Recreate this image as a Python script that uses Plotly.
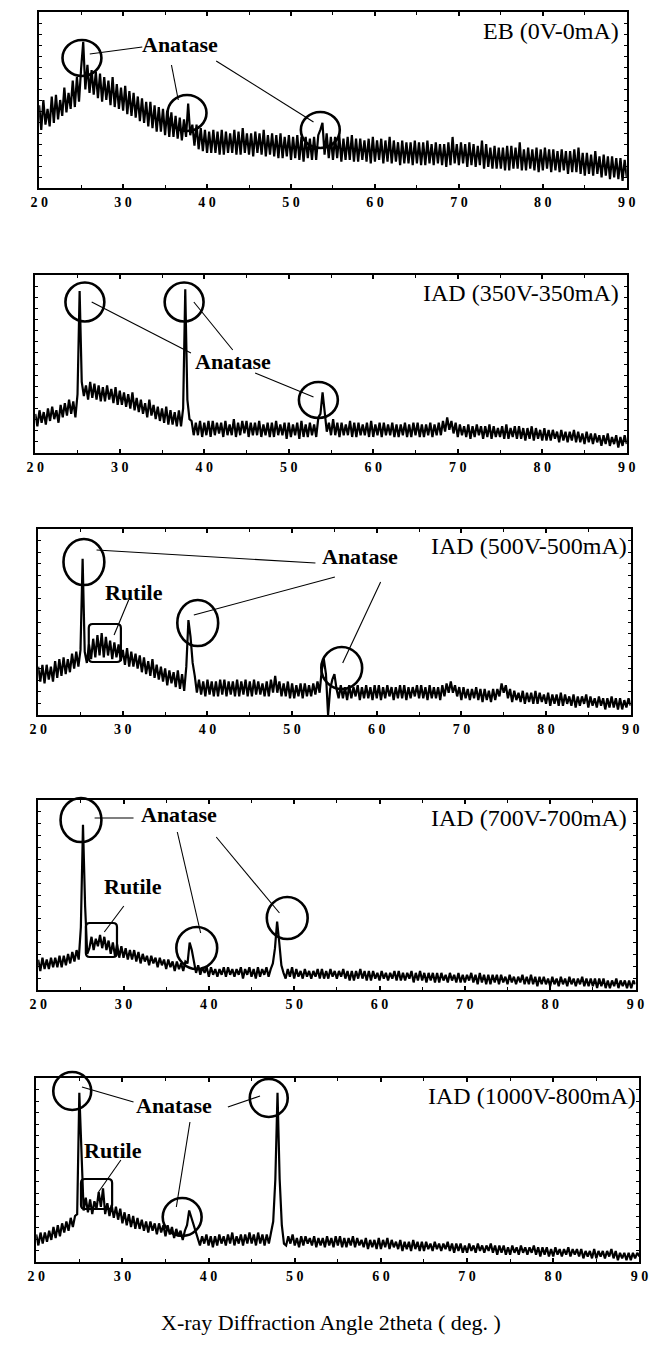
import plotly.graph_objects as go

# ---------------- data (2theta grid, 0.25 deg steps) ----------------
two_theta = [20 + 0.25 * i for i in range(281)]

eb_0v = [
    47, 33, 50, 36, 45, 35, 52, 37, 53, 39, 50, 41, 57, 43, 54, 45, 61, 46, 63, 49,
    68, 83, 56, 70, 54, 67, 53, 66, 51, 65, 49, 63, 50, 61, 47, 63, 46, 59, 45, 57,
    44, 58, 42, 55, 41, 54, 40, 52, 38, 51, 37, 49, 35, 49, 34, 47, 32, 46, 32, 45,
    30, 44, 29, 43, 29, 41, 28, 40, 27, 39, 29, 48, 30, 36, 24, 36, 22, 34, 21, 33,
    20, 32, 20, 33, 20, 32, 19, 33, 19, 32, 20, 31, 20, 33, 19, 32, 19, 34, 20, 31,
    19, 31, 18, 32, 20, 31, 19, 33, 18, 30, 19, 31, 18, 30, 17, 31, 17, 29, 18, 30,
    16, 29, 17, 30, 16, 29, 15, 29, 17, 28, 16, 29, 16, 30, 33, 37, 19, 31, 17, 29,
    16, 29, 17, 30, 15, 28, 16, 29, 16, 30, 15, 28, 15, 28, 16, 27, 15, 28, 14, 29,
    15, 27, 16, 28, 14, 27, 15, 29, 14, 27, 15, 26, 13, 27, 14, 26, 14, 26, 13, 27,
    14, 26, 13, 26, 13, 27, 14, 25, 13, 26, 14, 25, 13, 25, 12, 26, 13, 29, 14, 25,
    13, 26, 14, 25, 12, 26, 13, 25, 12, 24, 13, 27, 11, 25, 12, 23, 11, 24, 11, 23,
    11, 23, 10, 24, 10, 24, 11, 23, 11, 26, 10, 22, 10, 23, 11, 22, 10, 23, 9, 22,
    10, 23, 11, 22, 9, 22, 10, 21, 9, 22, 10, 21, 8, 21, 9, 22, 9, 23, 8, 20,
    7, 20, 8, 19, 7, 21, 8, 18, 6, 19, 7, 18, 5, 18, 6, 17, 5, 17, 4, 16,
    6,
]

iad_350v = [
    22, 15, 24, 17, 23, 16, 25, 18, 26, 19, 24, 17, 27, 20, 28, 21, 30, 22, 29, 20,
    33, 91, 40, 32, 38, 30, 40, 31, 39, 30, 38, 29, 37, 29, 38, 30, 36, 28, 37, 27,
    35, 27, 34, 26, 33, 25, 34, 24, 31, 23, 30, 22, 28, 20, 30, 21, 27, 19, 26, 18,
    25, 17, 26, 16, 24, 16, 23, 15, 24, 15, 25, 92, 30, 19, 18, 10, 17, 10, 18, 9,
    17, 10, 18, 9, 18, 10, 17, 11, 17, 9, 18, 10, 16, 10, 19, 9, 17, 10, 18, 11,
    18, 9, 17, 10, 17, 10, 18, 9, 16, 10, 17, 9, 17, 9, 18, 10, 16, 10, 17, 8,
    17, 9, 16, 10, 17, 8, 18, 9, 16, 9, 17, 10, 16, 9, 20, 22, 34, 22, 12, 17,
    10, 19, 10, 17, 9, 17, 10, 16, 10, 18, 9, 17, 9, 17, 10, 16, 10, 17, 9, 18,
    9, 16, 10, 17, 9, 17, 10, 16, 10, 17, 9, 16, 9, 16, 10, 17, 9, 16, 9, 17,
    10, 17, 9, 16, 9, 16, 10, 17, 9, 16, 10, 17, 10, 18, 12, 20, 13, 18, 11, 17,
    9, 16, 10, 15, 9, 16, 8, 15, 9, 16, 10, 15, 8, 15, 9, 16, 8, 15, 9, 14,
    9, 15, 8, 16, 8, 14, 9, 15, 8, 15, 8, 14, 7, 14, 8, 15, 7, 14, 8, 13,
    7, 14, 7, 13, 7, 13, 8, 12, 6, 13, 7, 12, 6, 12, 7, 13, 6, 12, 6, 11,
    5, 12, 6, 11, 5, 11, 6, 10, 4, 10, 5, 11, 4, 9, 5, 10, 3, 9, 4, 10,
    5,
]

iad_500v = [
    26, 18, 27, 17, 27, 19, 26, 18, 29, 20, 30, 21, 31, 22, 30, 23, 33, 25, 34, 26,
    35, 84, 34, 28, 38, 30, 41, 31, 43, 32, 44, 31, 42, 32, 40, 30, 39, 31, 38, 29,
    35, 27, 36, 26, 34, 26, 33, 25, 32, 23, 31, 22, 29, 21, 30, 20, 27, 19, 26, 18,
    25, 16, 24, 17, 23, 15, 24, 14, 22, 13, 26, 51, 42, 28, 21, 12, 19, 11, 18, 10,
    19, 11, 18, 10, 18, 10, 19, 11, 19, 10, 18, 11, 18, 10, 19, 10, 18, 11, 19, 10,
    18, 10, 19, 11, 18, 11, 17, 10, 18, 10, 19, 12, 21, 12, 18, 10, 17, 10, 18, 9,
    17, 9, 16, 10, 17, 9, 17, 10, 16, 10, 17, 11, 18, 12, 24, 30, 22, 0, 14, 19,
    22, 14, 9, 16, 9, 15, 8, 16, 9, 15, 10, 16, 8, 15, 9, 16, 9, 15, 8, 16,
    9, 16, 8, 15, 9, 16, 10, 15, 8, 15, 9, 16, 9, 16, 8, 15, 9, 15, 10, 16,
    9, 16, 9, 15, 8, 16, 9, 15, 9, 15, 8, 16, 10, 17, 12, 18, 12, 16, 10, 15,
    8, 15, 9, 14, 8, 14, 9, 15, 8, 14, 7, 14, 8, 13, 7, 14, 8, 14, 10, 17,
    12, 16, 9, 14, 7, 13, 8, 12, 7, 13, 6, 12, 7, 12, 6, 13, 6, 12, 7, 11,
    6, 12, 5, 11, 6, 11, 5, 12, 5, 11, 6, 10, 5, 11, 4, 10, 5, 10, 6, 11,
    4, 10, 5, 9, 4, 10, 5, 9, 3, 9, 4, 10, 4, 9, 3, 9, 3, 8, 4, 9,
    5,
]

iad_700v = [
    16, 10, 17, 11, 16, 11, 17, 12, 17, 12, 18, 12, 18, 13, 19, 14, 20, 15, 21, 16,
    33, 87, 44, 19, 22, 28, 21, 27, 23, 29, 22, 28, 21, 26, 19, 25, 18, 24, 17, 23,
    17, 22, 16, 21, 16, 21, 15, 20, 14, 19, 15, 18, 13, 18, 14, 17, 12, 17, 13, 16,
    11, 16, 12, 15, 10, 15, 11, 14, 10, 15, 14, 25, 21, 14, 9, 13, 8, 12, 9, 12,
    7, 12, 8, 11, 7, 11, 8, 12, 7, 12, 8, 11, 7, 11, 8, 12, 6, 11, 8, 12,
    7, 11, 6, 12, 7, 11, 8, 12, 7, 11, 14, 22, 36, 25, 13, 9, 6, 11, 7, 12,
    6, 11, 7, 10, 6, 11, 7, 10, 6, 10, 7, 11, 6, 11, 6, 10, 6, 11, 7, 10,
    6, 10, 7, 11, 6, 10, 5, 10, 5, 10, 6, 11, 6, 10, 5, 10, 5, 10, 6, 9,
    5, 10, 6, 9, 5, 9, 6, 10, 5, 10, 5, 9, 5, 9, 6, 10, 4, 9, 5, 10,
    5, 9, 4, 9, 5, 9, 4, 9, 4, 9, 5, 8, 4, 9, 5, 8, 4, 9, 4, 8,
    4, 8, 5, 9, 4, 8, 3, 9, 4, 8, 3, 8, 3, 8, 4, 8, 3, 8, 4, 7,
    3, 8, 4, 7, 3, 7, 4, 8, 3, 7, 3, 8, 3, 7, 2, 7, 3, 7, 3, 6,
    2, 7, 3, 6, 2, 7, 3, 6, 2, 7, 3, 6, 2, 6, 3, 7, 2, 6, 2, 6,
    2, 6, 1, 6, 2, 6, 1, 5, 1, 5, 2, 6, 1, 5, 2, 5, 1, 5, 1, 5,
    3,
]

iad_1000v = [
    15, 9, 16, 10, 16, 11, 17, 12, 19, 13, 20, 14, 21, 16, 22, 17, 24, 19, 25, 26,
    92, 55, 28, 35, 27, 34, 26, 33, 29, 38, 30, 40, 26, 32, 25, 31, 24, 30, 23, 29,
    21, 27, 20, 26, 19, 25, 18, 24, 18, 23, 17, 22, 16, 22, 17, 21, 15, 21, 16, 20,
    14, 20, 15, 19, 13, 18, 14, 17, 12, 17, 20, 28, 24, 20, 17, 12, 9, 14, 10, 15,
    9, 14, 8, 14, 9, 15, 10, 14, 9, 15, 10, 16, 9, 14, 10, 15, 9, 15, 10, 16,
    10, 15, 9, 16, 10, 15, 9, 15, 10, 16, 22, 45, 92, 45, 20, 10, 9, 14, 10, 15,
    9, 13, 8, 14, 9, 14, 10, 13, 9, 14, 8, 13, 9, 13, 8, 14, 9, 13, 8, 14,
    9, 14, 8, 13, 8, 13, 9, 14, 8, 13, 9, 12, 8, 13, 7, 12, 8, 12, 7, 13,
    7, 12, 8, 13, 7, 12, 8, 11, 7, 12, 6, 11, 7, 11, 6, 12, 7, 11, 6, 11,
    6, 11, 7, 10, 6, 11, 7, 10, 6, 10, 7, 11, 6, 10, 5, 10, 6, 10, 5, 9,
    5, 10, 6, 9, 5, 10, 6, 9, 5, 9, 6, 10, 5, 9, 4, 9, 5, 9, 4, 8,
    4, 9, 5, 8, 4, 9, 5, 8, 4, 8, 5, 9, 4, 8, 3, 8, 4, 8, 3, 7,
    3, 8, 4, 7, 3, 7, 4, 8, 3, 7, 4, 7, 3, 7, 2, 6, 3, 6, 2, 7,
    2, 6, 3, 6, 2, 6, 3, 7, 2, 6, 1, 5, 2, 5, 1, 5, 1, 5, 2, 5,
    3,
]

series = [eb_0v, iad_350v, iad_500v, iad_700v, iad_1000v]
panel_labels = ["EB (0V-0mA)", "IAD (350V-350mA)", "IAD (500V-500mA)",
                "IAD (700V-700mA)", "IAD (1000V-800mA)"]
tick_values = [20, 30, 40, 50, 60, 70, 80, 90]
tick_labels = ["2 0", "3 0", "4 0", "5 0", "6 0", "7 0", "8 0", "9 0"]
x_title = "X-ray Diffraction Angle 2theta ( deg. )"

# ---------------- layout geometry (pixels) ----------------
W, H = 663, 1345
boxes = [  # left, right, top, bottom
    (31, 635, 12, 188),
    (27, 635, 275, 453),
    (30, 639, 529, 715),
    (30, 644, 800, 990),
    (28, 648, 1078, 1262),
]
label_pos = [(628, 31), (628, 293), (636, 546), (636, 818), (646, 1096)]


def px(x):
    return x / W


def py(y):
    return 1 - y / H


SERIF = "Liberation Serif"
fig = go.Figure()
layout = dict(width=W, height=H, autosize=False, margin=dict(l=0, r=0, t=0, b=0),
              paper_bgcolor="white", plot_bgcolor="white", showlegend=False)

for i, (ys, (L, R, T, B)) in enumerate(zip(series, boxes)):
    n = i + 1
    xname = "x" if n == 1 else f"x{n}"
    yname = "y" if n == 1 else f"y{n}"
    fig.add_trace(go.Scatter(x=two_theta, y=ys, mode="lines",
                             line=dict(color="black", width=2.2),
                             xaxis=xname, yaxis=yname, hoverinfo="skip"))
    common = dict(showline=True, linewidth=2, linecolor="black", mirror="ticks",
                  ticks="inside", tickcolor="black", showgrid=False, zeroline=False)
    layout["xaxis" if n == 1 else f"xaxis{n}"] = dict(
        domain=[px(L), px(R)], anchor=yname, range=[20, 90],
        tickmode="array", tickvals=tick_values, ticktext=tick_labels,
        ticklen=4, tickwidth=1.5,
        minor=dict(tickmode="linear", tick0=20, dtick=5, ticks="inside", ticklen=3,
                   tickwidth=1.2, tickcolor="black"),
        tickfont=dict(family=SERIF, size=14, color="black", weight="bold"),
        **common)
    layout["yaxis" if n == 1 else f"yaxis{n}"] = dict(
        domain=[py(B), py(T)], anchor=xname, range=[0, 100],
        tickmode="linear", tick0=0, dtick=6.25, ticklen=3, tickwidth=1,
        showticklabels=False, **common)

fig.update_layout(**layout)

shapes = []
annotations = []


def circle(cx, cy, rx, ry=None):
    ry = rx if ry is None else ry
    shapes.append(dict(type="circle", xref="paper", yref="paper",
                       x0=px(cx - rx), x1=px(cx + rx), y0=py(cy + ry), y1=py(cy - ry),
                       line=dict(color="black", width=2.6)))


def seg(x0, y0, x1, y1):
    shapes.append(dict(type="line", xref="paper", yref="paper",
                       x0=px(x0), y0=py(y0), x1=px(x1), y1=py(y1),
                       line=dict(color="black", width=1.1)))


def rrect(x0, y0, x1, y1, r=4):
    X0, X1 = px(x0), px(x1)
    Y0, Y1 = py(y0), py(y1)
    rx, ry = r / W, r / H
    path = (f"M {X0+rx},{Y0} L {X1-rx},{Y0} Q {X1},{Y0} {X1},{Y0-ry} "
            f"L {X1},{Y1+ry} Q {X1},{Y1} {X1-rx},{Y1} L {X0+rx},{Y1} "
            f"Q {X0},{Y1} {X0},{Y1+ry} L {X0},{Y0-ry} Q {X0},{Y0} {X0+rx},{Y0} Z")
    shapes.append(dict(type="path", xref="paper", yref="paper", path=path,
                       line=dict(color="black", width=2.2)))


def text(s, cx, cy, size=22, bold=True, xanchor="center"):
    annotations.append(dict(text=s, x=px(cx), y=py(cy), xref="paper", yref="paper",
                            xanchor=xanchor, yanchor="middle", showarrow=False,
                            borderpad=0,
                            font=dict(family=SERIF, size=size, color="black",
                                      weight="bold" if bold else "normal")))


# panel labels
for lab, (rx_, ry_) in zip(panel_labels, label_pos):
    text(lab, rx_, ry_, size=24, bold=False, xanchor="right")

# panel 1
circle(75, 58, 20, 18); circle(183, 113, 20, 18); circle(320, 130, 20, 18)
seg(83, 54, 137, 47); seg(167, 65, 174, 100); seg(213, 61, 313, 122)
text("Anatase", 176, 45)

# panel 2
circle(78, 302, 20, 19.5); circle(180, 302, 20, 19.5); circle(318, 400, 20, 18)
seg(85, 302, 187, 353); seg(190, 302, 230, 350); seg(253, 373, 313, 397)
text("Anatase", 230, 361)

# panel 3
circle(77, 562, 21, 23); circle(194, 623, 21, 23); circle(342, 668, 21, 21)
seg(90, 550, 315, 563); seg(335, 577, 190, 615); seg(382, 582, 343, 663)
seg(123, 600, 108, 635)
rrect(82, 624, 115, 662)
text("Anatase", 361, 557)
text("Rutile", 128, 593)

# panel 4
circle(74, 820, 21, 22); circle(193, 948, 21, 21); circle(286, 918, 21, 21)
seg(88, 818, 128, 818); seg(173, 832, 197, 933); seg(213, 837, 278, 913)
seg(118, 906, 98, 932)
rrect(79, 923, 111, 957)
text("Anatase", 175, 815)
text("Rutile", 127, 887)

# panel 5
circle(65, 1091, 19.5, 19); circle(267, 1098, 19.5, 19); circle(178, 1217, 20, 19)
seg(75, 1087, 128, 1102); seg(225, 1107, 258, 1096); seg(186, 1122, 172, 1207)
seg(115, 1160, 92, 1192)
rrect(74, 1179, 106, 1209)
text("Anatase", 170, 1105)
text("Rutile", 107, 1150)

# x title
text(x_title, 331, 1322, size=22, bold=False)

fig.update_layout(shapes=shapes, annotations=annotations)
fig.write_html("out.html")
